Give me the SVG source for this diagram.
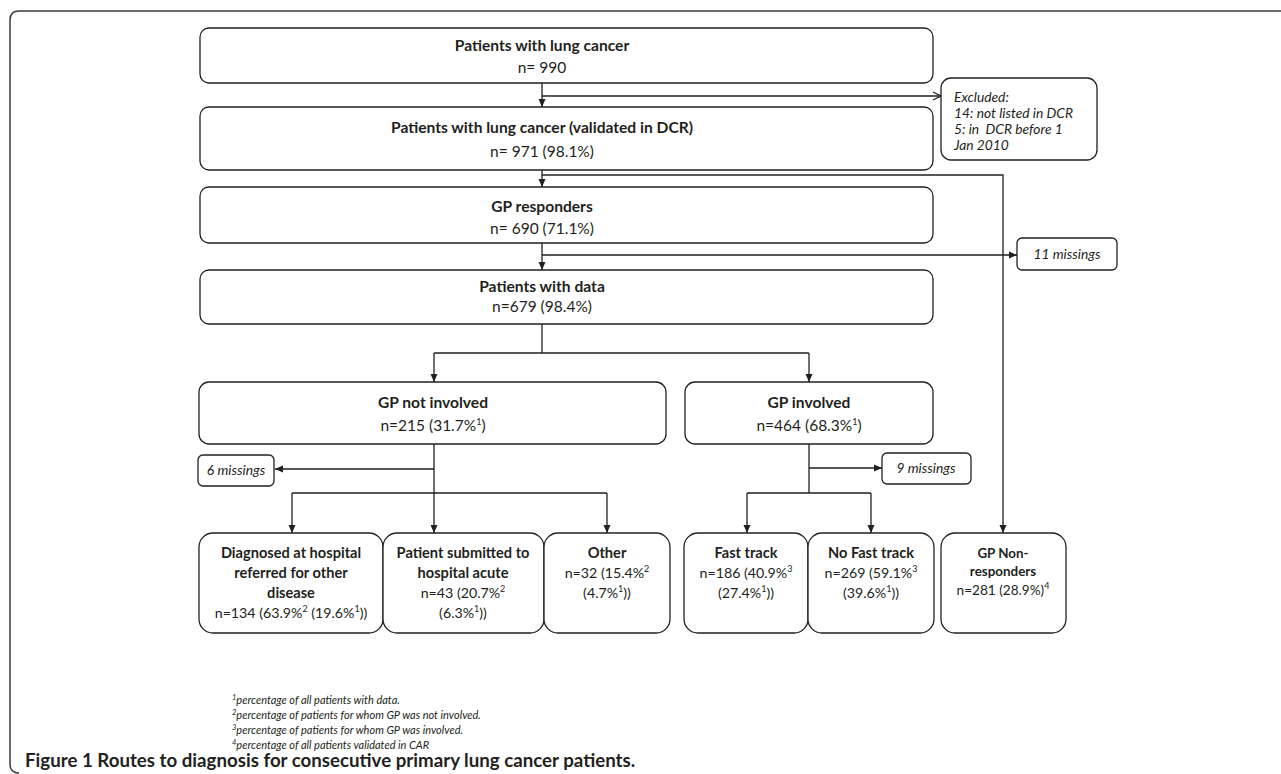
<svg xmlns="http://www.w3.org/2000/svg" width="1281" height="774" viewBox="0 0 1281 774">
<defs>
<style>
.frame{fill:none;stroke:#3a3a3a;stroke-width:1.5}
.box{fill:#fff;stroke:#231f20;stroke-width:1.3}
.ln{fill:none;stroke:#231f20;stroke-width:1.3}
.arr{marker-end:url(#ah)}
.oarr{marker-end:url(#oah)}
text{font-family:Lato,"Liberation Sans",Arial,sans-serif;fill:#231f20}
.t{font-weight:700;font-size:15.6px;text-anchor:middle}
.n{font-size:15.5px;text-anchor:middle}
.bt{font-weight:700;font-size:14.6px;text-anchor:middle}
.bn{font-size:14.2px;text-anchor:middle}
.gt{font-weight:700;font-size:13.4px;text-anchor:middle}
.gn{font-size:13.6px;text-anchor:middle}
.it{font-style:italic;font-size:13.8px}
.mid{text-anchor:middle}
.fn{font-style:italic;font-size:11px}
.cap{font-weight:700;font-size:18.7px}
.sup{font-size:9px}
.fsup{font-size:7.5px}
</style>
<marker id="ah" markerWidth="8" markerHeight="8" refX="8" refY="4" orient="auto" markerUnits="userSpaceOnUse">
<path d="M0,0.5 L8,4 L0,7.5 z" fill="#231f20"/>
</marker>
<marker id="oah" markerWidth="10" markerHeight="10" refX="9" refY="5" orient="auto" markerUnits="userSpaceOnUse">
<path d="M1,1 L9,5 L1,9" fill="none" stroke="#231f20" stroke-width="1.2"/>
</marker>
</defs>
<rect width="1281" height="774" fill="#fff"/>
<path class="frame" d="M1281,11 H19 Q10,11 10,20 V764 Q10,773 19,773"/>

<g id="connectors">
<path class="ln arr" d="M542,83 V107"/>
<path class="ln oarr" d="M542,96 H941"/>
<path class="ln arr" d="M542,170 V187"/>
<path class="ln arr" d="M542,175 H1003 V533"/>
<path class="ln arr" d="M542,243 V270"/>
<path class="ln arr" d="M542,255 H1017"/>
<path class="ln" d="M542,324 V353 M434,353 H809"/>
<path class="ln arr" d="M434,353 V382"/>
<path class="ln arr" d="M809,353 V382"/>
<path class="ln" d="M434,444 V493 M292,493 H607"/>
<path class="ln arr" d="M434,469 H275"/>
<path class="ln arr" d="M292,493 V533"/>
<path class="ln arr" d="M434,493 V533"/>
<path class="ln arr" d="M607,493 V533"/>
<path class="ln" d="M809,444 V493 M747,493 H871"/>
<path class="ln arr" d="M809,468 H882"/>
<path class="ln arr" d="M747,493 V533"/>
<path class="ln arr" d="M871,493 V533"/>
</g>

<g id="n-lung">
<rect class="box" x="200" y="28" width="733" height="55" rx="9"/>
<text class="t" x="542" y="51">Patients with lung cancer</text>
<text class="n" x="542" y="73">n= 990</text>
</g>
<g id="n-excluded">
<rect class="box" x="941" y="78" width="156" height="82" rx="10"/>
<text class="it" x="954" y="102">Excluded:</text>
<text class="it" x="954" y="118">14: not listed in DCR</text>
<text class="it" x="954" y="134" xml:space="preserve">5: in  DCR before 1</text>
<text class="it" x="954" y="150">Jan 2010</text>
</g>
<g id="n-validated">
<rect class="box" x="200" y="107" width="733" height="63" rx="9"/>
<text class="t" x="542" y="133">Patients with lung cancer (validated in DCR)</text>
<text class="n" x="542" y="157">n= 971 (98.1%)</text>
</g>
<g id="n-responders">
<rect class="box" x="200" y="187" width="733" height="56" rx="9"/>
<text class="t" x="542" y="212">GP responders</text>
<text class="n" x="542" y="234">n= 690 (71.1%)</text>
</g>
<g id="n-11missings">
<rect class="box" x="1017" y="238" width="100" height="32" rx="5"/>
<text class="it mid" x="1067" y="259">11 missings</text>
</g>
<g id="n-data">
<rect class="box" x="200" y="270" width="733" height="54" rx="9"/>
<text class="t" x="542" y="292">Patients with data</text>
<text class="n" x="542" y="312">n=679 (98.4%)</text>
</g>
<g id="n-notinvolved">
<rect class="box" x="199" y="382" width="467" height="62" rx="10"/>
<text class="t" x="433" y="408">GP not involved</text>
<text class="n" x="433" y="431">n=215 (31.7%<tspan class="sup" dy="-6">1</tspan><tspan dy="6">)</tspan></text>
</g>
<g id="n-involved">
<rect class="box" x="685" y="382" width="248" height="62" rx="10"/>
<text class="t" x="809" y="408">GP involved</text>
<text class="n" x="809" y="431">n=464 (68.3%<tspan class="sup" dy="-6">1</tspan><tspan dy="6">)</tspan></text>
</g>
<g id="n-6missings">
<rect class="box" x="198" y="455" width="76" height="31" rx="5"/>
<text class="it mid" x="236" y="475">6 missings</text>
</g>
<g id="n-9missings">
<rect class="box" x="882" y="453" width="89" height="31" rx="5"/>
<text class="it mid" x="926" y="473">9 missings</text>
</g>
<g id="n-diagnosed">
<rect class="box" x="199" y="533" width="184" height="100" rx="14"/>
<text class="bt" x="291" y="558">Diagnosed at hospital</text>
<text class="bt" x="291" y="578">referred for other</text>
<text class="bt" x="291" y="598">disease</text>
<text class="bn" x="291" y="618">n=134 (63.9%<tspan class="sup" dy="-6">2</tspan><tspan dy="6"> (19.6%</tspan><tspan class="sup" dy="-6">1</tspan><tspan dy="6">))</tspan></text>
</g>
<g id="n-acute">
<rect class="box" x="383" y="533" width="161" height="100" rx="14"/>
<text class="bt" x="463" y="558">Patient submitted to</text>
<text class="bt" x="463" y="578">hospital acute</text>
<text class="bn" x="463" y="598">n=43 (20.7%<tspan class="sup" dy="-6">2</tspan></text>
<text class="bn" x="463" y="618">(6.3%<tspan class="sup" dy="-6">1</tspan><tspan dy="6">))</tspan></text>
</g>
<g id="n-other">
<rect class="box" x="544" y="533" width="126" height="100" rx="14"/>
<text class="bt" x="607" y="558">Other</text>
<text class="bn" x="607" y="578">n=32 (15.4%<tspan class="sup" dy="-6">2</tspan></text>
<text class="bn" x="607" y="598">(4.7%<tspan class="sup" dy="-6">1</tspan><tspan dy="6">))</tspan></text>
</g>
<g id="n-fast">
<rect class="box" x="684" y="533" width="124" height="100" rx="14"/>
<text class="bt" x="746" y="558">Fast track</text>
<text class="bn" x="746" y="578">n=186 (40.9%<tspan class="sup" dy="-6">3</tspan></text>
<text class="bn" x="746" y="598">(27.4%<tspan class="sup" dy="-6">1</tspan><tspan dy="6">))</tspan></text>
</g>
<g id="n-nofast">
<rect class="box" x="808" y="533" width="126" height="100" rx="14"/>
<text class="bt" x="871" y="558">No Fast track</text>
<text class="bn" x="871" y="578">n=269 (59.1%<tspan class="sup" dy="-6">3</tspan></text>
<text class="bn" x="871" y="598">(39.6%<tspan class="sup" dy="-6">1</tspan><tspan dy="6">))</tspan></text>
</g>
<g id="n-nonresp">
<rect class="box" x="941" y="533" width="125" height="100" rx="14"/>
<text class="gt" x="1003" y="558">GP Non-</text>
<text class="gt" x="1003" y="576">responders</text>
<text class="gn" x="1003" y="595">n=281 (28.9%)<tspan class="sup" dy="-6">4</tspan></text>
</g>

<g id="footnotes">
<text class="fn" x="232" y="704"><tspan class="fsup" dy="-4">1</tspan><tspan dy="4">percentage of all patients with data.</tspan></text>
<text class="fn" x="232" y="719"><tspan class="fsup" dy="-4">2</tspan><tspan dy="4">percentage of patients for whom GP was not involved.</tspan></text>
<text class="fn" x="232" y="734"><tspan class="fsup" dy="-4">3</tspan><tspan dy="4">percentage of patients for whom GP was involved.</tspan></text>
<text class="fn" x="232" y="749"><tspan class="fsup" dy="-4">4</tspan><tspan dy="4">percentage of all patients validated in CAR</tspan></text>
</g>
<text class="cap" x="25" y="767">Figure 1 Routes to diagnosis for consecutive primary lung cancer patients.</text>
</svg>
